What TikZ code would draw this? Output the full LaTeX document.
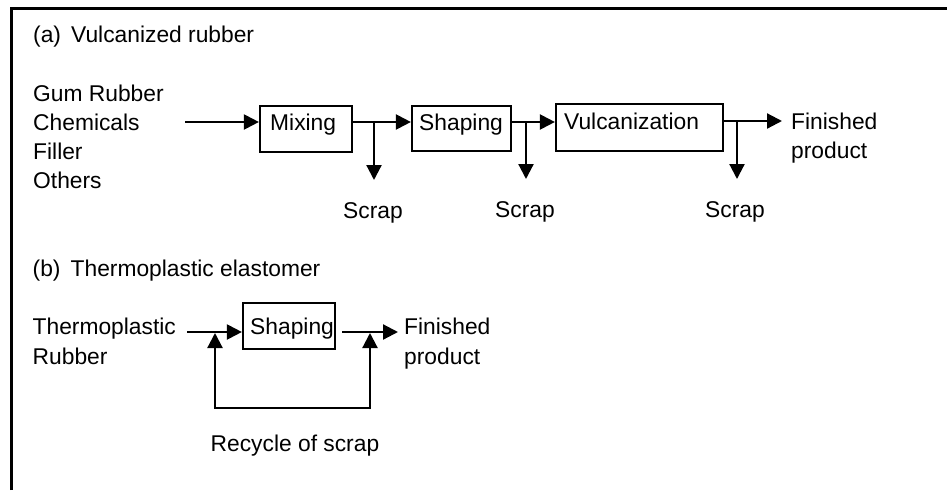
\documentclass[tikz,border=0pt]{standalone}
\usepackage{fontspec}
\setmainfont{Liberation Sans}
\usetikzlibrary{arrows.meta}
\begin{document}
\begin{tikzpicture}[x=1pt,y=-1pt,
  txt/.style={anchor=base west,inner sep=0pt,font=\fontsize{22.8}{27}\selectfont},
  boxn/.style={draw,line width=2.2pt,inner sep=0pt},
  conn/.style={line width=2.2pt},
  arr/.style={conn,-{Triangle[length=15pt,width=15pt]}}]
\useasboundingbox (0,0) rectangle (947,490);
\fill[white] (0,0) rectangle (947,490);
% frame
\draw[line width=3pt] (11,490) -- (11,8) -- (947,8);
% ---- (a)
\node[txt] (ta) at (33,42.5) {(a)\ \,Vulcanized rubber};
\node[txt] (in1) at (33,101.5) {Gum Rubber};
\node[txt] (in2) at (33,130.5) {Chemicals};
\node[txt] (in3) at (33,159.5) {Filler};
\node[txt] (in4) at (33,188.5) {Others};
\node[boxn,minimum width=92pt,minimum height=46pt] (mix) at (306,129) {};
\node[txt] (mixt) at (270,130) {Mixing};
\node[boxn,minimum width=99pt,minimum height=45pt] (shp) at (461.5,128.5) {};
\node[txt] (shpt) at (419,130) {Shaping};
\node[boxn,minimum width=167pt,minimum height=47pt] (vul) at (639.5,127.5) {};
\node[txt] (vult) at (564,129.5) {Vulcanization};
\node[txt] (fin1) at (791,129.5) {Finished};
\node[txt] (fin2) at (791,158.5) {product};
\node[txt] (sc1) at (343,218) {Scrap};
\node[txt] (sc2) at (495,217.5) {Scrap};
\node[txt] (sc3) at (705,217.5) {Scrap};
\coordinate (ina) at (185,122);
\coordinate (j1) at (374,122);
\coordinate (e1) at (374,180);
\coordinate (j2) at (526,122);
\coordinate (e2) at (526,179);
\coordinate (j3) at (737,121);
\coordinate (e3) at (737,179);
\coordinate (fo) at (782,121);
\draw[arr] (ina) -- (mix.west |- ina);
\draw[arr] (mix.east |- j1) -- (shp.west |- j1);
\draw[arr] (j1) -- (e1);
\draw[arr] (shp.east |- j2) -- (vul.west |- j2);
\draw[arr] (j2) -- (e2);
\draw[arr] (vul.east |- j3) -- (fo);
\draw[arr] (j3) -- (e3);
% ---- (b)
\node[txt] (tb) at (32.5,276.5) {(b)\ \,Thermoplastic elastomer};
\node[txt] (tp1) at (32.5,334.3) {Thermoplastic};
\node[txt] (tp2) at (32.5,364) {Rubber};
\node[boxn,minimum width=92pt,minimum height=46pt] (shb) at (289,326) {};
\node[txt] (shbt) at (250,334.3) {Shaping};
\node[txt] (fb1) at (404,334.3) {Finished};
\node[txt] (fb2) at (404,364) {product};
\node[txt] (rec) at (210.5,451.5) {Recycle of scrap};
\coordinate (inb) at (187,332);
\coordinate (ob1) at (342,332);
\coordinate (ob2) at (398,332);
\coordinate (l1) at (215,333);
\coordinate (l2) at (215,408);
\coordinate (l3) at (370,408);
\coordinate (l4) at (370,333);
\draw[arr] (inb) -- (shb.west |- inb);
\draw[arr] (ob1) -- (ob2);
\draw[conn,{Triangle[length=15pt,width=15pt]}-{Triangle[length=15pt,width=15pt]}] (l1) -- (l2) -- (l3) -- (l4);
\end{tikzpicture}
\end{document}
